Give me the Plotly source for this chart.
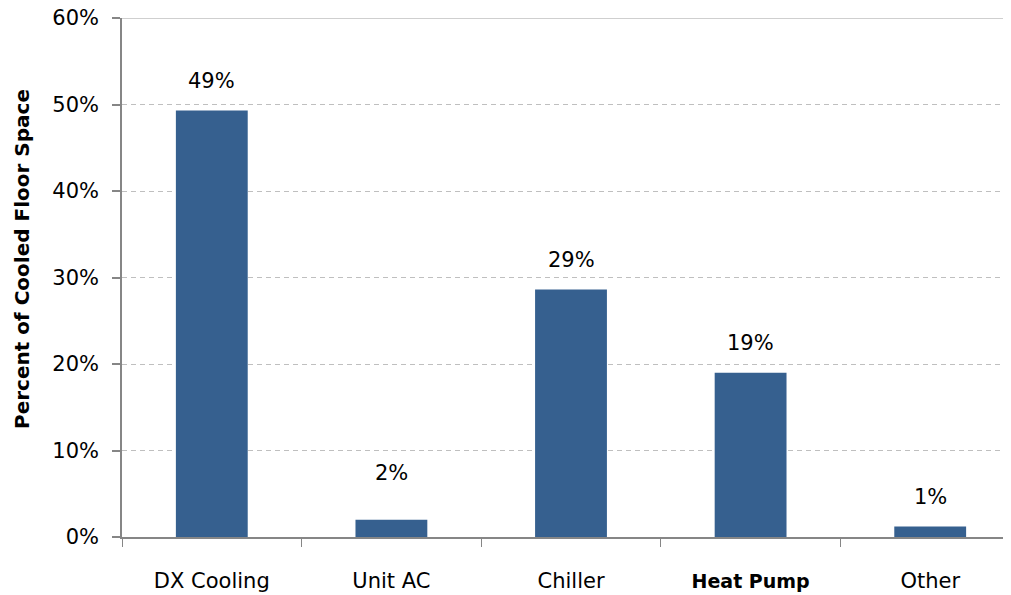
import plotly.graph_objects as go

categories = ["DX Cooling", "Unit AC", "Chiller", "Heat Pump", "Other"]
values = [49.3, 2.0, 28.6, 19.0, 1.2]
value_labels = ["49%", "2%", "29%", "19%", "1%"]
tick_labels = ["DX Cooling", "Unit AC", "Chiller",
               "<b><span style='font-size:19px'>Heat Pump</span></b>", "Other"]
y_ticks = [0, 10, 20, 30, 40, 50, 60]
y_tick_labels = ["0%", "10%", "20%", "30%", "40%", "50%", "60%"]

FONT = "DejaVu Sans"
BAR = "#36608F"
AXIS = "#868686"
GRID = "#BFBFBF"

W, H = 1003, 587
ML, MT, MB = 114, 10, 58
PW = W - ML
PH = H - MT - MB

fig = go.Figure()
fig.add_trace(go.Bar(
    x=categories, y=values, width=0.4,
    marker=dict(color=BAR, line=dict(width=0)),
    hoverinfo="skip", showlegend=False,
))

# data labels
for c, v, t in zip(categories, values, value_labels):
    extra = 17 if c == "Unit AC" else 0
    fig.add_annotation(x=c, y=v, text=t, showarrow=False,
                       xanchor="center", yanchor="bottom", yshift=16 + extra,
                       font=dict(family=FONT, size=21, color="black"))

# solid top gridline
fig.add_shape(type="line", xref="paper", yref="y", x0=0, x1=1, y0=60, y1=60,
              line=dict(color=GRID, width=1.5), layer="below")

fig.add_annotation(text="<b>Percent of Cooled Floor Space</b>", textangle=-90,
                   xref="paper", yref="paper", x=-(ML - 14) / PW, y=(MT + PH - 251) / PH,
                   xanchor="center", yanchor="middle", showarrow=False,
                   font=dict(family=FONT, size=20, color="black"))

fig.update_layout(
    width=W, height=H,
    margin=dict(l=ML, r=0, t=MT, b=MB, autoexpand=False),
    paper_bgcolor="white", plot_bgcolor="white",
    font=dict(family=FONT, size=21, color="black"),
    bargap=0.6,
)
fig.update_xaxes(
    type="category", range=[-0.5, -0.5 + PW / 179.6], automargin=False,
    tickmode="array", tickvals=categories, ticktext=tick_labels,
    tickson="boundaries", ticks="outside", ticklen=8, tickcolor=AXIS, tickwidth=1,
    showline=True, linecolor=AXIS, linewidth=1.5,
    showgrid=False, ticklabelstandoff=24, ticklabeloverflow="allow",
    tickfont=dict(family=FONT, size=21, color="black"),
)
fig.update_yaxes(
    range=[0, 60], tickmode="array", tickvals=y_ticks, ticktext=y_tick_labels,
    automargin=False,
    ticks="outside", ticklen=8, tickcolor=AXIS, tickwidth=1.5,
    showline=True, linecolor=AXIS, linewidth=1.5,
    showgrid=True, gridcolor=GRID, gridwidth=1, griddash="5px,4px",
    zeroline=False, ticklabelstandoff=9, ticklabeloverflow="allow",
    tickfont=dict(family=FONT, size=21, color="black"),
)

fig.write_html("out.html")
